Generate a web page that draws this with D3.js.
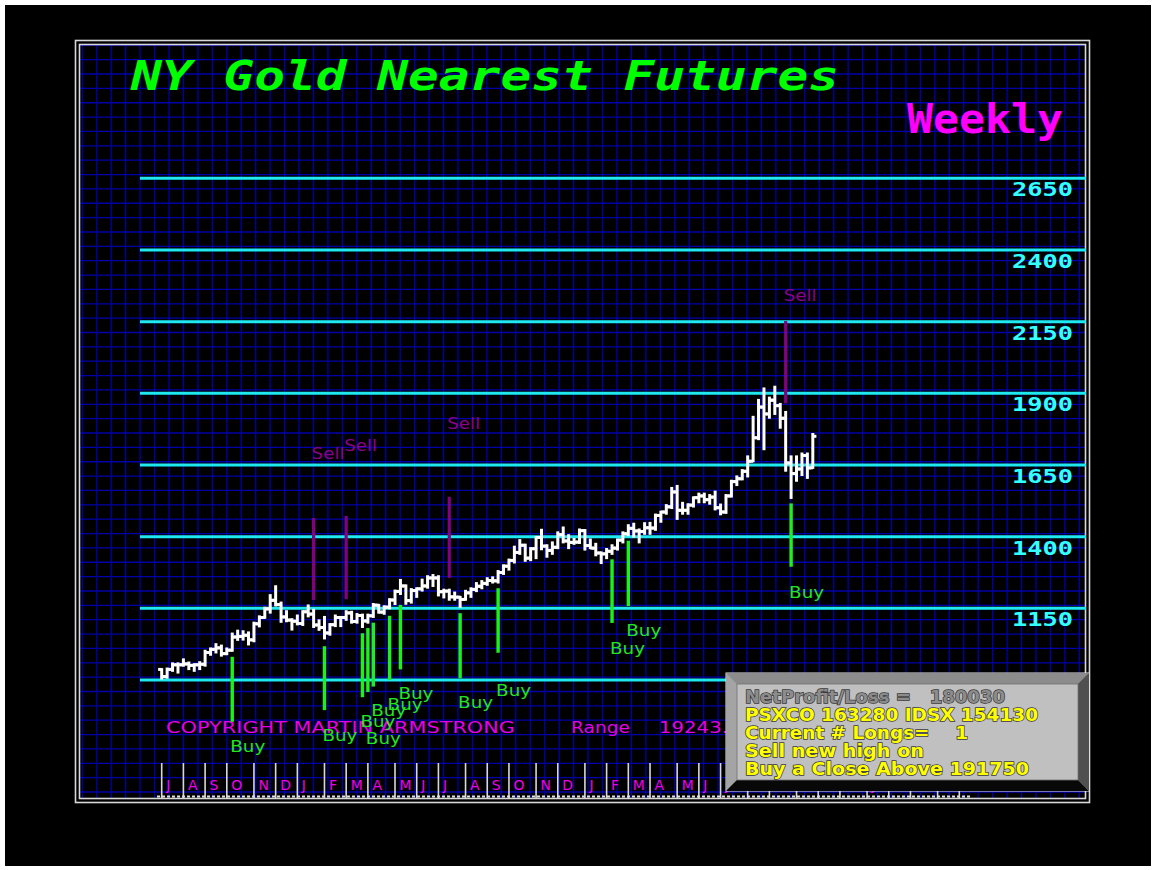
<!DOCTYPE html>
<html>
<head>
<meta charset="utf-8">
<script src="https://cdn.jsdelivr.net/npm/d3@7"></script>
<style>
  html, body { margin: 0; padding: 0; background: #fff; }
  svg { display: block; }
  text { white-space: pre; }
</style>
</head>
<body>
<div id="chart"></div>
<script>
// weekly bars, first bar = week ending 10 Jul 2009
var startDate = new Date(2009, 6, 10);

var opens = [937,912,937,953,953,956,951,953,955,996,1007,1012,992,1004,1050,1052,1056,1040,1096,1118,
  1148,1178,1163,1120,1109,1105,1097,1138,1130,1092,1083,1064,1093,1118,1118,1134,1104,1125,1106,1124,
  1161,1137,1154,1179,1209,1228,1177,1212,1218,1228,1256,1256,1208,1210,1190,1189,1181,1204,1216,1227,
  1237,1247,1246,1275,1297,1317,1345,1370,1325,1358,1397,1367,1352,1363,1407,1385,1380,1381,1421,1369,
  1360,1343,1340,1349,1360,1388,1410,1429,1420,1418,1431,1430,1474,1486,1504,1556,1492,1492,1510,1536,
  1542,1529,1538,1501,1486,1542,1592,1602,1628,1663,1745,1852,1828,1876,1857,1813,1657,1620,1636,1683,1640];
var highs = [938,940,958,958,972,961,955,962,1002,1010,1025,1020,1010,1062,1072,1070,1066,1100,1122,1152,
  1196,1227,1170,1140,1112,1125,1140,1160,1145,1108,1120,1095,1125,1120,1140,1138,1130,1128,1128,1165,
  1162,1157,1182,1212,1249,1230,1217,1220,1250,1262,1266,1262,1215,1215,1205,1190,1211,1220,1238,1245,
  1255,1258,1280,1300,1320,1365,1388,1372,1360,1398,1424,1370,1380,1415,1432,1405,1392,1425,1423,1390,
  1375,1345,1357,1370,1390,1415,1440,1445,1425,1447,1448,1477,1487,1510,1570,1577,1518,1513,1537,1550,
  1550,1545,1557,1512,1545,1595,1610,1632,1680,1818,1877,1917,1885,1923,1863,1835,1680,1680,1690,1690,1758];
var lows = [905,908,932,926,950,938,932,938,950,988,996,985,990,1002,1040,1041,1024,1035,1087,1117,
  1135,1160,1103,1105,1076,1094,1092,1122,1085,1075,1045,1058,1088,1088,1110,1100,1100,1085,1100,1120,
  1135,1131,1150,1165,1200,1166,1170,1190,1212,1222,1228,1195,1188,1180,1180,1155,1180,1190,1210,1220,
  1232,1240,1240,1270,1285,1310,1340,1316,1318,1325,1356,1330,1340,1360,1380,1360,1375,1378,1355,1360,
  1335,1308,1325,1340,1355,1380,1405,1400,1380,1410,1410,1424,1452,1480,1500,1462,1480,1480,1505,1520,
  1520,1515,1495,1478,1483,1540,1580,1600,1610,1663,1740,1705,1815,1828,1780,1630,1535,1595,1615,1605,1640];
var closes = [912,937,953,953,956,951,953,955,996,1007,1012,992,1004,1050,1052,1056,1040,1096,1118,1148,
  1178,1163,1120,1109,1105,1097,1138,1130,1092,1083,1064,1093,1118,1118,1134,1104,1125,1106,1124,1161,
  1137,1154,1179,1209,1228,1177,1212,1218,1228,1256,1256,1208,1210,1190,1189,1181,1204,1216,1227,1237,
  1247,1246,1275,1297,1317,1345,1370,1325,1358,1397,1367,1352,1363,1407,1385,1380,1381,1421,1369,1360,
  1343,1340,1349,1360,1388,1410,1429,1420,1418,1431,1430,1474,1486,1504,1556,1492,1492,1510,1536,1542,
  1529,1538,1501,1486,1542,1592,1602,1628,1663,1745,1852,1828,1876,1857,1813,1657,1620,1636,1683,1640,1750];

var levels = [900, 1150, 1400, 1650, 1900, 2150, 2400, 2650];
var monthInitials = ["J","F","M","A","M","J","J","A","S","O","N","D"];

var sellIdx = [28, 34, 53, 115];
var sellFrom = [1179, 1182, 1256, 1865];
var sellTo = [1465, 1472, 1539, 2152];
var sellLabelAt = [1692, 1720, 1797, 2243];

var buyIdx = [13, 30, 37, 38, 39, 42, 44, 55, 62, 83, 86, 116];
var buyTop = [981, 1018, 1063, 1081, 1100, 1124, 1162, 1133, 1220, 1321, 1386, 1516];
var buyBottom = [754, 795, 840, 858, 877, 900, 937, 906, 995, 1099, 1158, 1295];
var buyLabelAt = [666, 705, 753, 694, 792, 813, 851, 820, 862, 1008, 1070, 1203];

var infoLines = ["NetProfit/Loss =   180030", "PSXCO 163280 IDSX 154130", "Current # Longs=    1",
  "Sell new high on", "Buy a Close Above 191750"];

var W = 1156, H = 870;
var svg = d3.select("#chart").append("svg").attr("width", W).attr("height", H);

svg.append("rect").attr("x", 5).attr("y", 5).attr("width", 1146).attr("height", 861).attr("fill", "#000");

// background grid
var grid = svg.append("g").attr("stroke", "#0000a8").attr("stroke-width", 1.3);
grid.selectAll(".gv").data(d3.range(82.3, 1086, 14.45)).enter().append("line")
  .attr("class", "gv")
  .attr("x1", function (d) { return d; }).attr("x2", function (d) { return d; })
  .attr("y1", 44.5).attr("y2", 798.5);
grid.selectAll(".gh").data(d3.range(45.3, 798, 14.36)).enter().append("line")
  .attr("class", "gh")
  .attr("y1", function (d) { return d; }).attr("y2", function (d) { return d; })
  .attr("x1", 79.5).attr("x2", 1085.5);

// frame
svg.append("rect").attr("x", 75.5).attr("y", 40.5).attr("width", 1014).attr("height", 762)
  .attr("fill", "none").attr("stroke", "#d8d8d8").attr("stroke-width", 1.6);
svg.append("rect").attr("x", 79.5).attr("y", 44.5).attr("width", 1006).attr("height", 754)
  .attr("fill", "none").attr("stroke", "#d8d8d8").attr("stroke-width", 1.6);

var x = d3.scaleLinear().domain([0, 120]).range([161.7, 812.8]);
var y = d3.scaleLinear().domain([900, 2650]).range([680, 178.3]);

// cyan levels
svg.append("g").selectAll("line").data(levels).enter().append("line")
  .attr("x1", 140).attr("x2", 1086)
  .attr("y1", function (d) { return y(d); }).attr("y2", function (d) { return y(d); })
  .attr("stroke", "#1ee8f0").attr("stroke-width", 3);

svg.append("g").selectAll("text").data(levels).enter().append("text")
  .attr("x", 1012).attr("y", function (d) { return y(d) + 18; })
  .attr("textLength", 61).attr("lengthAdjust", "spacingAndGlyphs")
  .attr("font-family", "DejaVu Sans Mono").attr("font-weight", "bold").attr("font-size", 20)
  .attr("fill", "#33ffff")
  .text(function (d) { return d; });

// titles
svg.append("text").attr("x", 131).attr("y", 90)
  .attr("textLength", 708).attr("lengthAdjust", "spacingAndGlyphs")
  .attr("font-family", "DejaVu Sans Mono").attr("font-weight", "bold").attr("font-style", "oblique")
  .attr("font-size", 41).attr("fill", "#00ff00")
  .text("NY Gold Nearest Futures");
svg.append("text").attr("x", 907).attr("y", 133)
  .attr("textLength", 156).attr("lengthAdjust", "spacingAndGlyphs")
  .attr("font-family", "DejaVu Sans Mono").attr("font-weight", "bold")
  .attr("font-size", 41).attr("fill", "#ff00ff")
  .text("Weekly");

// copyright + range
svg.append("text").attr("x", 166).attr("y", 733)
  .attr("textLength", 349).attr("lengthAdjust", "spacingAndGlyphs")
  .attr("font-family", "DejaVu Sans").attr("font-size", 15).attr("fill", "#e600e6")
  .text("COPYRIGHT MARTIN ARMSTRONG");
svg.append("text").attr("x", 571).attr("y", 733)
  .attr("textLength", 59).attr("lengthAdjust", "spacingAndGlyphs")
  .attr("font-family", "DejaVu Sans").attr("font-size", 15).attr("fill", "#e600e6")
  .text("Range");
svg.append("text").attr("x", 659).attr("y", 733)
  .attr("textLength", 94).attr("lengthAdjust", "spacingAndGlyphs")
  .attr("font-family", "DejaVu Sans").attr("font-size", 15).attr("fill", "#e600e6")
  .text("19243.00");

// sell / buy signals
var sells = sellIdx.map(function (d, k) { return {i: d, a: sellFrom[k], b: sellTo[k], t: sellLabelAt[k]}; });
var buys = buyIdx.map(function (d, k) { return {i: d, a: buyTop[k], b: buyBottom[k], t: buyLabelAt[k]}; });

svg.append("g").selectAll("line").data(sells).enter().append("line")
  .attr("x1", function (d) { return x(d.i); }).attr("x2", function (d) { return x(d.i); })
  .attr("y1", function (d) { return y(d.a); }).attr("y2", function (d) { return y(d.b); })
  .attr("stroke", "#820082").attr("stroke-width", 3.2);
svg.append("g").selectAll("line").data(buys).enter().append("line")
  .attr("x1", function (d) { return x(d.i); }).attr("x2", function (d) { return x(d.i); })
  .attr("y1", function (d) { return y(d.a); }).attr("y2", function (d) { return y(d.b); })
  .attr("stroke", "#1ef01e").attr("stroke-width", 3.4);

// bars
var bars = svg.append("g").attr("stroke", "#fff").attr("stroke-width", 3);
var idx = d3.range(opens.length);
bars.selectAll(".v").data(idx).enter().append("line")
  .attr("class", "v")
  .attr("x1", function (i) { return x(i); }).attr("x2", function (i) { return x(i); })
  .attr("y1", function (i) { return y(highs[i]) - 1; }).attr("y2", function (i) { return y(lows[i]) + 1; });
bars.selectAll(".o").data(idx).enter().append("line")
  .attr("class", "o")
  .attr("x1", function (i) { return x(i) - 3.6; }).attr("x2", function (i) { return x(i); })
  .attr("y1", function (i) { return y(opens[i]); }).attr("y2", function (i) { return y(opens[i]); });
bars.selectAll(".c").data(idx).enter().append("line")
  .attr("class", "c")
  .attr("x1", function (i) { return x(i); }).attr("x2", function (i) { return x(i) + 3.6; })
  .attr("y1", function (i) { return y(closes[i]); }).attr("y2", function (i) { return y(closes[i]); });

// signal labels
svg.append("g").selectAll("text").data(sells).enter().append("text")
  .attr("x", function (d) { return x(d.i) - 2; }).attr("y", function (d) { return y(d.t) + 6; })
  .attr("textLength", 33).attr("lengthAdjust", "spacingAndGlyphs")
  .attr("font-family", "DejaVu Sans").attr("font-size", 15).attr("fill", "#8a008a")
  .text("Sell");
svg.append("g").selectAll("text").data(buys).enter().append("text")
  .attr("x", function (d) { return x(d.i) - 2; }).attr("y", function (d) { return y(d.t) + 5; })
  .attr("textLength", 35).attr("lengthAdjust", "spacingAndGlyphs")
  .attr("font-family", "DejaVu Sans").attr("font-size", 15).attr("fill", "#22e622")
  .text("Buy");

// month ticks
var ticks = [];
var prevMonth = -1;
for (var i = 0; x(i) <= 972; i++) {
  var dt = d3.timeDay.offset(startDate, 7 * i);
  if (dt.getMonth() !== prevMonth) ticks.push({i: i, m: dt.getMonth()});
  prevMonth = dt.getMonth();
}
svg.append("g").selectAll("line").data(ticks).enter().append("line")
  .attr("x1", function (d) { return x(d.i); }).attr("x2", function (d) { return x(d.i); })
  .attr("y1", 763).attr("y2", 798)
  .attr("stroke", "#d8d8d8").attr("stroke-width", 1.6);
svg.append("g").selectAll("text").data(ticks).enter().append("text")
  .attr("x", function (d) { return x(d.i) + 4.5; }).attr("y", 790)
  .attr("font-family", "DejaVu Sans").attr("font-size", 14).attr("fill", "#ee00ee")
  .text(function (d) { return monthInitials[d.m]; });
svg.append("line").attr("x1", 157).attr("x2", 972).attr("y1", 796.5).attr("y2", 796.5)
  .attr("stroke", "#e0e0e0").attr("stroke-width", 2).attr("stroke-dasharray", "3,2");

// info box
var bx1 = 726, by1 = 673, bx2 = 1089, by2 = 791, bv = 11;
var box = svg.append("g");
box.append("rect").attr("x", bx1).attr("y", by1).attr("width", bx2 - bx1).attr("height", by2 - by1)
  .attr("fill", "#808080").attr("stroke", "#e8e8e8").attr("stroke-width", 1);
var bevels = [
  {p: [[bx1, by1], [bx2, by1], [bx2 - bv, by1 + bv], [bx1 + bv, by1 + bv]], c: "#8c8c8c"},
  {p: [[bx1, by1], [bx1 + bv, by1 + bv], [bx1 + bv, by2 - bv], [bx1, by2]], c: "#a4a4a4"},
  {p: [[bx1, by2], [bx1 + bv, by2 - bv], [bx2 - bv, by2 - bv], [bx2, by2]], c: "#080808"},
  {p: [[bx2, by1], [bx2, by2], [bx2 - bv, by2 - bv], [bx2 - bv, by1 + bv]], c: "#505050"}
];
box.selectAll("polygon").data(bevels).enter().append("polygon")
  .attr("points", function (d) { return d.p.join(" "); })
  .attr("fill", function (d) { return d.c; });
box.append("rect").attr("x", bx1 + bv).attr("y", by1 + bv)
  .attr("width", bx2 - bx1 - 2 * bv).attr("height", by2 - by1 - 2 * bv)
  .attr("fill", "#c0c0c0").attr("stroke", "#707070").attr("stroke-width", 0.8);

var infoWidths = [260, 293, 223, 179, 284];
box.append("g").selectAll("text").data(infoLines).enter().append("text")
  .attr("x", 745).attr("y", function (d, k) { return 703 + k * 18; })
  .attr("textLength", function (d, k) { return infoWidths[k]; })
  .attr("lengthAdjust", "spacingAndGlyphs")
  .attr("font-family", "DejaVu Sans").attr("font-weight", "bold").attr("font-size", 17)
  .attr("fill", function (d, k) { return k === 0 ? "#8c8c8c" : "#ffff00"; })
  .attr("stroke", "#3a3a3a").attr("stroke-width", 1.4)
  .style("paint-order", "stroke")
  .text(function (d) { return d; });
</script>
</body>
</html>
